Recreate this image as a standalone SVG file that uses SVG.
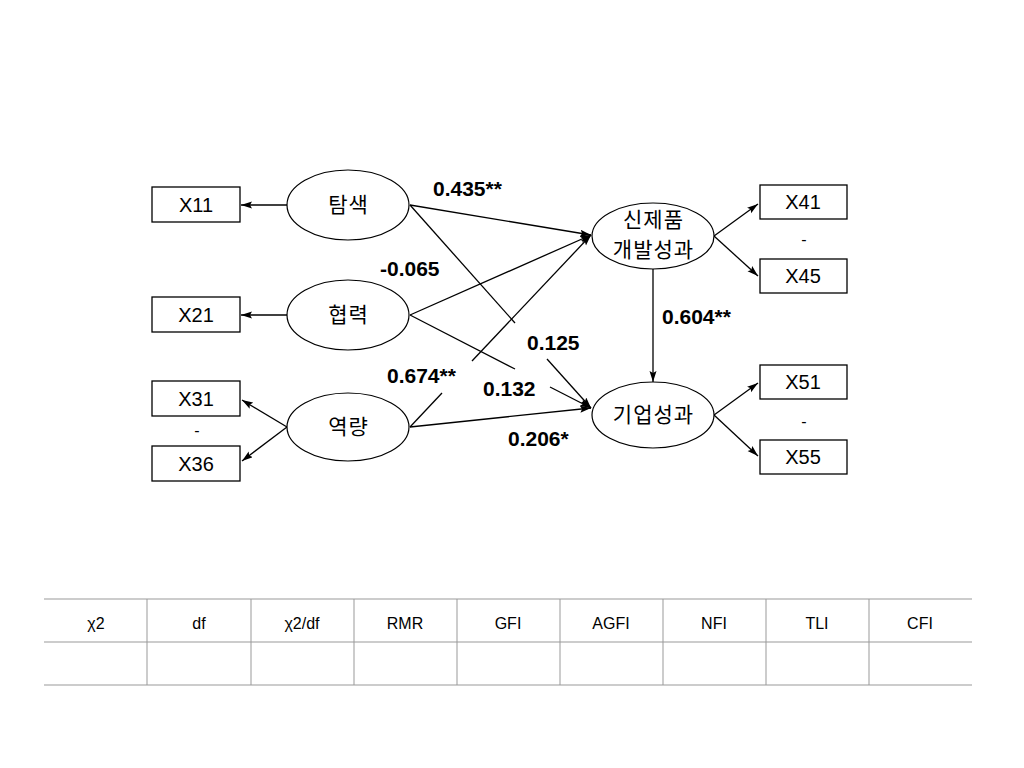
<svg xmlns="http://www.w3.org/2000/svg" width="1024" height="768" viewBox="0 0 1024 768">
<defs>
<marker id="ah" markerUnits="userSpaceOnUse" markerWidth="12" markerHeight="8" refX="11" refY="3.5" orient="auto">
<path d="M0,0 L11,3.5 L0,7 L2,3.5 z" fill="#000"/>
</marker>
<style>
.box{fill:#fff;stroke:#000;stroke-width:1.3}
.ell{fill:#fff;stroke:#000;stroke-width:1.2}
.obs{font-family:"Liberation Sans",Arial,sans-serif;font-size:20px;text-anchor:middle;fill:#000}
.lat{font-family:"Noto Sans CJK KR","Liberation Sans",sans-serif;font-size:21px;letter-spacing:1px;text-anchor:middle;fill:#000}
.coef{font-family:"Liberation Sans",Arial,sans-serif;font-size:21px;font-weight:bold;fill:#000}
.ln{stroke:#000;stroke-width:1.3;fill:none}
.arr{stroke:#000;stroke-width:1.3;fill:none;marker-end:url(#ah)}
.tl{stroke:#999;stroke-width:1}
.th{font-family:"Liberation Sans",Arial,sans-serif;font-size:16px;text-anchor:middle;fill:#000}
.dash{font-family:"Liberation Sans",Arial,sans-serif;font-size:16px;text-anchor:middle;fill:#000}
</style>
</defs>
<rect width="1024" height="768" fill="#fff"/>

<g id="connectors">
<line class="arr" x1="287" y1="205" x2="241" y2="205"/>
<line class="arr" x1="287" y1="315" x2="241" y2="315"/>
<line class="arr" x1="287" y1="427" x2="242" y2="400"/>
<line class="arr" x1="287" y1="427" x2="242" y2="461"/>
<line class="arr" x1="714" y1="236" x2="758" y2="204"/>
<line class="arr" x1="714" y1="236" x2="758" y2="276"/>
<line class="arr" x1="714" y1="415" x2="758" y2="383"/>
<line class="arr" x1="714" y1="415" x2="758" y2="456"/>
<line class="arr" x1="653" y1="269" x2="653" y2="382"/>
<line class="arr" x1="410" y1="205" x2="591" y2="235"/>
<line class="ln" x1="410" y1="205" x2="515" y2="323"/>
<line class="arr" x1="547" y1="359" x2="591" y2="408"/>
<line class="arr" x1="410" y1="315" x2="591" y2="235"/>
<line class="ln" x1="410" y1="315" x2="515" y2="369"/>
<line class="arr" x1="550" y1="387" x2="591" y2="408"/>
<line class="ln" x1="410" y1="427" x2="442" y2="393"/>
<line class="arr" x1="472" y1="361" x2="591" y2="235"/>
<line class="arr" x1="410" y1="427" x2="591" y2="408"/>
</g>

<g id="X11"><rect class="box" x="152" y="187" width="88" height="35"/><text class="obs" x="196" y="212">X11</text></g>
<g id="X21"><rect class="box" x="152" y="297" width="88" height="35"/><text class="obs" x="196" y="322">X21</text></g>
<g id="X31"><rect class="box" x="152" y="381" width="88" height="35"/><text class="obs" x="196" y="406">X31</text></g>
<text class="dash" x="197" y="436">-</text>
<g id="X36"><rect class="box" x="152" y="446" width="88" height="35"/><text class="obs" x="196" y="471">X36</text></g>

<g id="n-tamsaek"><ellipse class="ell" cx="348" cy="205" rx="61" ry="35"/><text class="lat" x="348.5" y="212">탐색</text></g>
<g id="n-hyeopryeok"><ellipse class="ell" cx="348" cy="315" rx="61" ry="35"/><text class="lat" x="348.5" y="322">협력</text></g>
<g id="n-yeokryang"><ellipse class="ell" cx="348" cy="427" rx="61" ry="34"/><text class="lat" x="348.5" y="434">역량</text></g>

<g id="n-newprod"><ellipse class="ell" cx="653" cy="236" rx="61" ry="33"/><text class="lat" x="653.5" y="227">신제품</text><text class="lat" x="653.5" y="257">개발성과</text></g>
<g id="n-firm"><ellipse class="ell" cx="653" cy="415" rx="61" ry="33"/><text class="lat" x="653.5" y="422">기업성과</text></g>

<g id="X41"><rect class="box" x="760" y="185" width="87" height="34"/><text class="obs" x="803" y="209">X41</text></g>
<text class="dash" x="804" y="245">-</text>
<g id="X45"><rect class="box" x="760" y="259" width="87" height="34"/><text class="obs" x="803" y="283">X45</text></g>
<g id="X51"><rect class="box" x="760" y="365" width="87" height="34"/><text class="obs" x="803" y="389">X51</text></g>
<text class="dash" x="804" y="427">-</text>
<g id="X55"><rect class="box" x="760" y="440" width="87" height="34"/><text class="obs" x="803" y="464">X55</text></g>

<g id="labels">
<text class="coef" x="433" y="196">0.435**</text>
<text class="coef" x="380" y="276">-0.065</text>
<text class="coef" x="527" y="350">0.125</text>
<text class="coef" x="387" y="383">0.674**</text>
<text class="coef" x="483" y="396">0.132</text>
<text class="coef" x="508" y="446">0.206*</text>
<text class="coef" x="662" y="324">0.604**</text>
</g>

<g id="fit-table">
<line class="tl" x1="44" y1="599" x2="972" y2="599"/>
<line class="tl" x1="44" y1="642" x2="972" y2="642"/>
<line class="tl" x1="44" y1="685" x2="972" y2="685"/>
<line class="tl" x1="147" y1="599" x2="147" y2="685"/>
<line class="tl" x1="251" y1="599" x2="251" y2="685"/>
<line class="tl" x1="354" y1="599" x2="354" y2="685"/>
<line class="tl" x1="457" y1="599" x2="457" y2="685"/>
<line class="tl" x1="560" y1="599" x2="560" y2="685"/>
<line class="tl" x1="663" y1="599" x2="663" y2="685"/>
<line class="tl" x1="766" y1="599" x2="766" y2="685"/>
<line class="tl" x1="869" y1="599" x2="869" y2="685"/>
<text class="th" x="96" y="629">χ2</text>
<text class="th" x="199" y="629">df</text>
<text class="th" x="302" y="629">χ2/df</text>
<text class="th" x="405" y="629">RMR</text>
<text class="th" x="508" y="629">GFI</text>
<text class="th" x="611" y="629">AGFI</text>
<text class="th" x="714" y="629">NFI</text>
<text class="th" x="817" y="629">TLI</text>
<text class="th" x="920" y="629">CFI</text>
</g>
</svg>
